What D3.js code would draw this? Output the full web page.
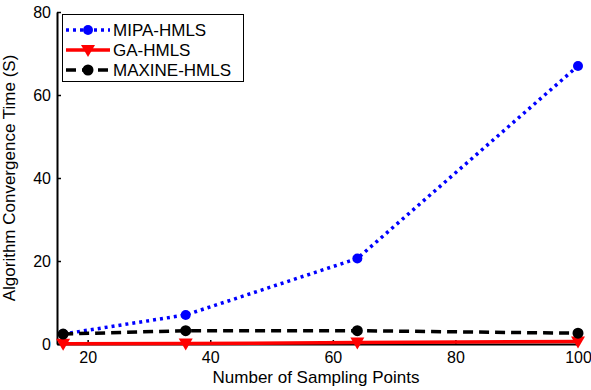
<!DOCTYPE html>
<html>
<head>
<meta charset="utf-8">
<script src="https://cdn.jsdelivr.net/npm/d3@7"></script>
<style>
  body { margin: 0; background: #fff; }
  svg { font-family: "Liberation Sans", Arial, sans-serif; }
</style>
</head>
<body>
<div class="chartContainer"></div>
<script>
// data
var points = [16, 36, 64, 100];
var mipa = [2.4, 7.0, 20.6, 67.0];
var ga = [0.05, 0.1, 0.35, 0.6];
var maxine = [2.4, 3.2, 3.2, 2.6];
var seriesNames = ['MIPA-HMLS', 'GA-HMLS', 'MAXINE-HMLS'];
var xTicks = [20, 40, 60, 80, 100];
var yTicks = [0, 20, 40, 60, 80];

function Graph() {
    const width = 591;
    const height = 390;
    const left = 57, right = 578, top = 12, bottom = 344;

    const xScale = d3.scaleLinear().domain([15, 100]).range([left, right]);
    const yScale = d3.scaleLinear().domain([0, 80]).range([bottom, top]);

    const svg = d3.select('.chartContainer')
                  .append('svg')
                    .attr('width', width)
                    .attr('height', height);

    // axes, ticks pointing inward like matlab
    const xAxis = svg.append('g')
        .attr('transform', `translate(0, ${bottom})`)
        .call(d3.axisBottom(xScale).tickValues(xTicks).tickSizeInner(-4).tickSizeOuter(0).tickPadding(8));
    const yAxis = svg.append('g')
        .attr('transform', `translate(${left}, 0)`)
        .call(d3.axisLeft(yScale).tickValues(yTicks).tickSizeInner(-4).tickSizeOuter(0).tickPadding(6));

    [xAxis, yAxis].forEach(function(ax) {
        ax.select('.domain').attr('stroke', '#000').attr('stroke-width', 2);
        ax.selectAll('.tick line').attr('stroke', '#000').attr('stroke-width', 1.5);
        ax.selectAll('.tick text').attr('font-size', 16).attr('fill', '#000')
          .attr('font-family', '"Liberation Sans", Arial, sans-serif');
    });

    svg.append('text')
        .attr('x', 316)
        .attr('y', 383)
        .attr('text-anchor', 'middle')
        .attr('font-size', 17)
        .text('Number of Sampling Points');

    svg.append('text')
        .attr('transform', `translate(15, ${(top + bottom) / 2}) rotate(-90)`)
        .attr('text-anchor', 'middle')
        .attr('font-size', 17)
        .text('Algorithm Convergence Time (S)');

    const line = d3.line()
        .x((d, i) => xScale(points[i]))
        .y((d) => yScale(d));

    const styles = [
        {data: mipa, color: '#0000ff', dash: '3,4', marker: 'dot'},
        {data: ga, color: '#ff0000', dash: null, marker: 'tri'},
        {data: maxine, color: '#000000', dash: '10,6', marker: 'circ'}
    ];

    function drawMarker(g, kind, color, x, y) {
        if (kind === 'dot') {
            g.append('circle').attr('cx', x).attr('cy', y).attr('r', 5).attr('fill', color);
        } else if (kind === 'tri') {
            g.append('path')
              .attr('d', `M${x - 7},${y - 5}L${x + 7},${y - 5}L${x},${y + 7}Z`)
              .attr('fill', color);
        } else {
            g.append('circle').attr('cx', x).attr('cy', y).attr('r', 4.5)
              .attr('fill', '#000').attr('stroke', color).attr('stroke-width', 2);
        }
    }

    styles.forEach(function(s) {
        const g = svg.append('g');
        g.append('path')
          .datum(s.data)
          .attr('d', line)
          .attr('fill', 'none')
          .attr('stroke', s.color)
          .attr('stroke-width', 3.5)
          .attr('stroke-dasharray', s.dash);
        s.data.forEach(function(v, i) {
            drawMarker(g, s.marker, s.color, xScale(points[i]), yScale(v));
        });
    });

    // legend
    const legend = svg.append('g');
    legend.append('rect')
        .attr('x', 62.5).attr('y', 14.5)
        .attr('width', 181).attr('height', 67)
        .attr('fill', '#fff').attr('stroke', '#000').attr('stroke-width', 1);
    seriesNames.forEach(function(name, i) {
        const s = styles[i];
        const y = 30 + i * 20;
        legend.append('line')
            .attr('x1', 66).attr('x2', 110).attr('y1', y).attr('y2', y)
            .attr('stroke', s.color).attr('stroke-width', 3.5)
            .attr('stroke-dasharray', s.dash);
        drawMarker(legend, s.marker, s.color, 88, y);
        legend.append('text')
            .attr('x', 113).attr('y', y)
            .attr('dy', '0.36em')
            .attr('font-size', 17)
            .text(name);
    });
}

Graph();
</script>
</body>
</html>
